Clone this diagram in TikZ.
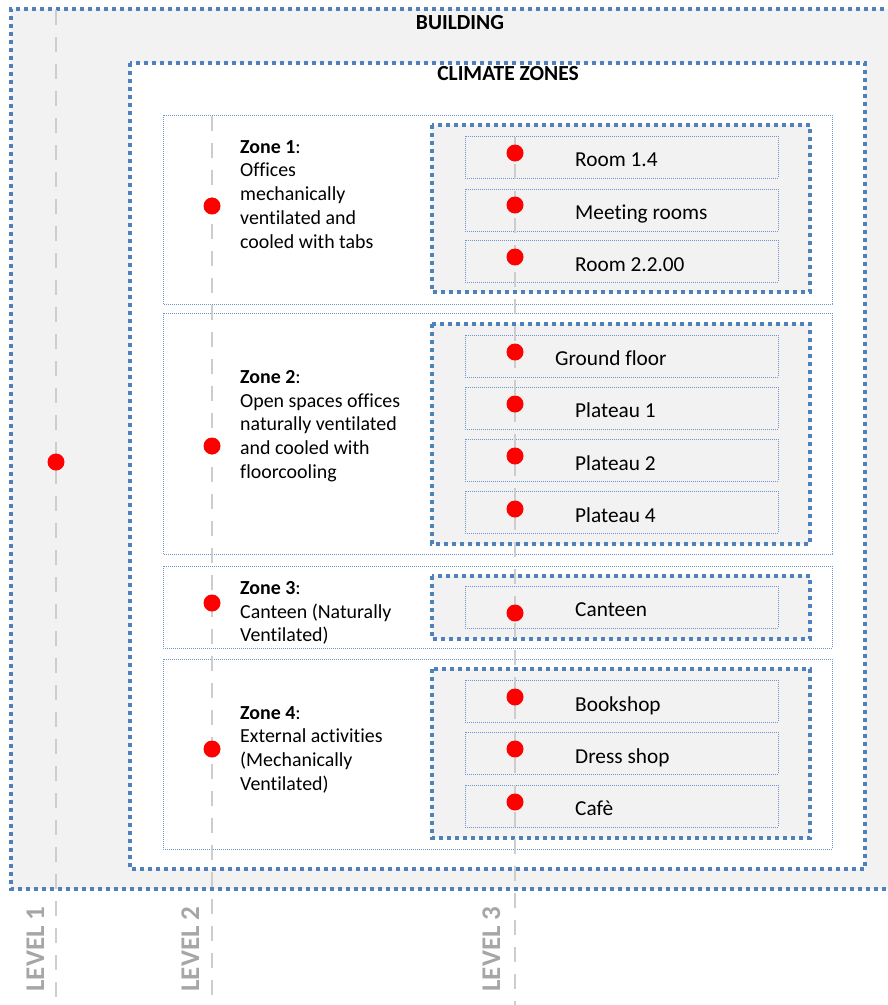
\documentclass[tikz,border=0pt]{standalone}
\usepackage{fontspec}
\setmainfont[Ligatures=NoCommon]{Carlito}
\definecolor{bluedot}{RGB}{79,129,189}
\definecolor{thinblue}{RGB}{110,150,205}
\definecolor{boxgray}{RGB}{242,242,242}
\definecolor{levelgray}{RGB}{166,166,166}
\definecolor{linegray}{RGB}{205,205,205}
\tikzset{
  thickdot/.style={draw=bluedot, line width=3.5bp, dash pattern=on 4bp off 4bp},
  thindot/.style={draw=thinblue, line width=0.9bp, dash pattern=on 1bp off 1bp},
  levelline/.style={draw=linegray, line width=2.2bp, dash pattern=on 15bp off 12bp},
  reddot/.style={circle, fill=red, minimum size=17bp, inner sep=0pt},
  roomtext/.style={anchor=base west, inner sep=0pt, font=\fontsize{21.3bp}{24bp}\selectfont},
  zonetext/.style={anchor=north west, inner sep=0pt, align=left, font=\fontsize{19.9bp}{23.8bp}\selectfont},
  titletext/.style={anchor=base, inner sep=0pt, font=\fontsize{21.5bp}{24bp}\selectfont\bfseries},
  leveltext/.style={anchor=base, rotate=90, inner sep=0pt, text=levelgray, font=\fontsize{27bp}{30bp}\selectfont\bfseries}
}
\begin{document}
\begin{tikzpicture}[x=1bp, y=-1bp]
\useasboundingbox (0,0) rectangle (888,1005);
% building
\path[fill=boxgray] (11,9) rectangle (900,889);
\draw[thickdot] (900,9) -- (11,9) -- (11,889) -- (900,889);
\node[titletext] (building) at (460,29) {BUILDING};
% climate zones
\draw[thickdot, fill=white] (130,63) rectangle (865,869);
\node[titletext] (climate) at (508,80) {CLIMATE ZONES};
% zone boxes
\draw[thindot, fill=white] (163,115) rectangle (832,304);
\draw[thindot, fill=white] (163,313) rectangle (832,554);
\draw[thindot, fill=white] (163,566) rectangle (832,648);
\draw[thindot, fill=white] (163,659) rectangle (832,849);
% inner boxes
\draw[thickdot, fill=boxgray] (432,125) rectangle (810,292);
\draw[thickdot, fill=boxgray] (432,324) rectangle (810,544);
\draw[thickdot, fill=boxgray] (432,576) rectangle (810,639);
\draw[thickdot, fill=boxgray] (432,669) rectangle (810,838);
% rooms
\foreach \t in {136,189,240,335,387,439,491,586,680,732,785}{
  \draw[thindot, fill=boxgray] (465,\t) rectangle (778,\t+42);
}
% level lines
\coordinate (l1top) at (56,10);
\coordinate (l1bot) at (56,1005);
\coordinate (l2top) at (212,116);
\coordinate (l2bot) at (212,1005);
\coordinate (l3top) at (515,137);
\coordinate (l3bot) at (515,1005);
\draw[levelline] (l1top) -- (l1bot);
\draw[levelline] (l2top) -- (l2bot);
\draw[levelline] (l3top) -- (l3bot);
% dots
\node[reddot] (p1) at (56,462) {};
\node[reddot] (z1) at (212,206) {};
\node[reddot] (z2) at (212,446) {};
\node[reddot] (z3) at (212,603) {};
\node[reddot] (z4) at (212,749) {};
\node[reddot] (r1) at (515,153) {};
\node[reddot] (r2) at (515,205) {};
\node[reddot] (r3) at (515,257) {};
\node[reddot] (r4) at (515,352) {};
\node[reddot] (r5) at (515,404) {};
\node[reddot] (r6) at (515,456) {};
\node[reddot] (r7) at (515,509) {};
\node[reddot] (r8) at (515,613) {};
\node[reddot] (r9) at (515,697) {};
\node[reddot] (r10) at (515,749) {};
\node[reddot] (r11) at (515,802) {};
% room texts
\node[roomtext] (t1) at (575,166) {Room 1.4};
\node[roomtext] (t2) at (575,219) {Meeting rooms};
\node[roomtext] (t3) at (575,271) {Room 2.2.00};
\node[roomtext] (t4) at (555,365) {Ground floor};
\node[roomtext] (t5) at (575,417) {Plateau 1};
\node[roomtext] (t6) at (575,470) {Plateau 2};
\node[roomtext] (t7) at (575,522) {Plateau 4};
\node[roomtext] (t8) at (575,616) {Canteen};
\node[roomtext] (t9) at (575,711) {Bookshop};
\node[roomtext] (t10) at (575,763) {Dress shop};
\node[roomtext] (t11) at (575,815) {Cafè};
% zone texts
\node[zonetext] (zt1) at (240,140) {\textbf{Zone 1}:\\Offices\\mechanically\\ventilated and\\cooled with tabs};
\node[zonetext] (zt2) at (240,370) {\textbf{Zone 2}:\\Open spaces offices\\naturally ventilated\\and cooled with\\floorcooling};
\node[zonetext] (zt3) at (240,581) {\textbf{Zone 3}:\\Canteen (Naturally\\Ventilated)};
\node[zonetext] (zt4) at (240,706) {\textbf{Zone 4}:\\External activities\\(Mechanically\\Ventilated)};
% level labels
\node[leveltext] (lv1) at (44,949) {LEVEL 1};
\node[leveltext] (lv2) at (199,949) {LEVEL 2};
\node[leveltext] (lv3) at (500,949) {LEVEL 3};
\end{tikzpicture}
\end{document}
